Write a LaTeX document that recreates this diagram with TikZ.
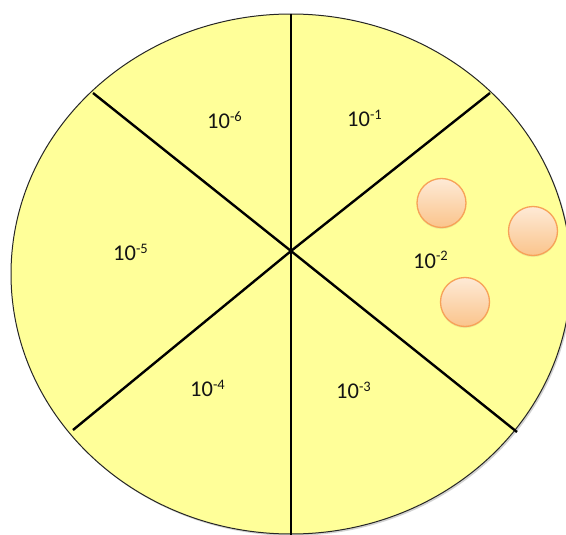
\documentclass[tikz,border=0pt]{standalone}
\usepackage{fontspec}
\setmainfont{Carlito}
\usetikzlibrary{shadows}
\definecolor{padfill}{RGB}{255,255,153}
\definecolor{dotborder}{RGB}{247,162,88}
\definecolor{dottop}{RGB}{254,234,214}
\definecolor{dotbottom}{RGB}{250,196,140}
\definecolor{txt}{RGB}{20,20,20}
\newcommand{\pw}[1]{10\raisebox{7pt}{\fontsize{14.5}{15}\selectfont #1}}
\begin{document}
\begin{tikzpicture}[x=1pt,y=-1pt,
  divider/.style={line width=2.4pt,black},
  lbl/.style={anchor=base west,inner sep=0pt,text=txt,font=\fontsize{22.5}{25}\selectfont},
  dot/.style={circle,minimum size=49pt,inner sep=0pt,draw=dotborder,line width=1.3pt,
    top color=dottop,bottom color=dotbottom,
    drop shadow={opacity=0.15,shadow xshift=0pt,shadow yshift=-1.5pt}}]
\useasboundingbox (0,0) rectangle (566,535);
% plate with soft shadow
\fill[gray!70,opacity=0.5] (292.5,275.8) ellipse [x radius=280pt, y radius=260pt];
\draw[draw=black!85,fill=padfill,line width=1pt] (291,274) ellipse [x radius=280pt, y radius=260pt];
% centre and rim points
\coordinate (c) at (291,251);
\coordinate (t) at (291,14);
\coordinate (b) at (291,535);
\coordinate (ul) at (93,93);
\coordinate (ur) at (490,93);
\coordinate (ll) at (73,430);
\coordinate (lr) at (517,432);
\draw[divider] (c) -- (t);
\draw[divider] (c) -- (b);
\draw[divider] (c) -- (ul);
\draw[divider] (c) -- (ur);
\draw[divider] (c) -- (ll);
\draw[divider] (c) -- (lr);
% labels
\node[lbl] (s6) at (207,129) {\pw{-6}};
\node[lbl] (s1) at (347,127) {\pw{-1}};
\node[lbl] (s5) at (113,260) {\pw{-5}};
\node[lbl] (s2) at (413,268) {\pw{-2}};
\node[lbl] (s4) at (190,396) {\pw{-4}};
\node[lbl] (s3) at (336,398) {\pw{-3}};
% dots
\node[dot] (d1) at (441.5,203) {};
\node[dot] (d2) at (533,231) {};
\node[dot] (d3) at (465,302) {};
\end{tikzpicture}
\end{document}
